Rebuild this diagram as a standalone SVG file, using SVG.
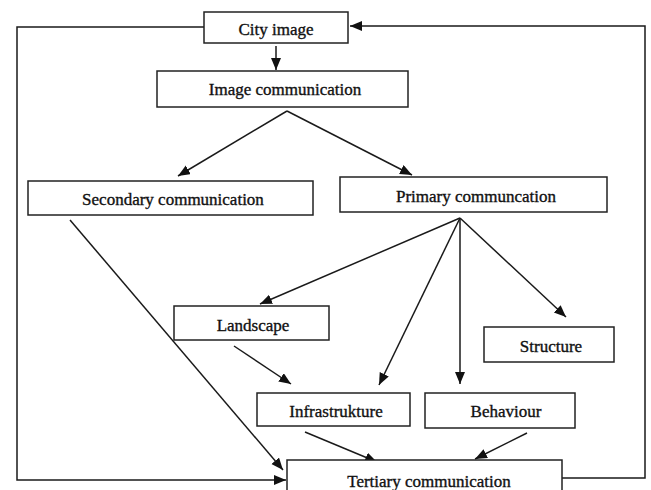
<svg xmlns="http://www.w3.org/2000/svg" width="651" height="490" viewBox="0 0 651 490">
<style>
.box{fill:#fff;stroke:#222;stroke-width:1.5}
.lbl{font-family:"Liberation Serif","Times New Roman",serif;font-size:17px;fill:#111;stroke:#111;stroke-width:0.35;text-anchor:middle}
.ln{fill:none;stroke:#1a1a1a;stroke-width:1.5}
.arr{marker-end:url(#ah)}
</style>
<defs>
<marker id="ah" markerUnits="userSpaceOnUse" markerWidth="14" markerHeight="12" refX="12" refY="5" orient="auto">
<path d="M0,0 L12,5 L0,10 z" fill="#111"/>
</marker>
</defs>
<rect width="651" height="490" fill="#fff"/>
<g id="connectors">
<polyline class="ln" points="204,27 17,27 17,480 286,480" style="marker-end:url(#ah)"/>
<polyline class="ln" points="562,478 645,478 645,26 350,26" style="marker-end:url(#ah)"/>
<line class="ln arr" x1="276" y1="46" x2="276" y2="70"/>
<line class="ln arr" x1="287" y1="111" x2="178" y2="176"/>
<line class="ln arr" x1="287" y1="111" x2="412" y2="175"/>
<line class="ln arr" x1="70" y1="220" x2="283" y2="470"/>
<line class="ln arr" x1="460" y1="218" x2="260" y2="304"/>
<line class="ln arr" x1="460" y1="218" x2="379" y2="385"/>
<line class="ln arr" x1="460" y1="218" x2="460" y2="384"/>
<line class="ln arr" x1="460" y1="218" x2="566" y2="317"/>
<line class="ln arr" x1="234" y1="346" x2="291" y2="384"/>
<line class="ln arr" x1="305" y1="432" x2="377" y2="462"/>
<line class="ln arr" x1="527" y1="433" x2="475" y2="459"/>
</g>
<g id="city-image"><rect class="box" x="204" y="12" width="144" height="31"/><text class="lbl" x="276" y="35">City image</text></g>
<g id="image-communication"><rect class="box" x="157" y="71" width="251" height="36"/><text class="lbl" x="285" y="95">Image communication</text></g>
<g id="secondary-communication"><rect class="box" x="28" y="181" width="285" height="34"/><text class="lbl" x="173" y="205">Secondary communication</text></g>
<g id="primary-communication"><rect class="box" x="340" y="177" width="267" height="35"/><text class="lbl" x="476" y="202">Primary communcation</text></g>
<g id="landscape"><rect class="box" x="174" y="306" width="155" height="34"/><text class="lbl" x="253" y="331">Landscape</text></g>
<g id="structure"><rect class="box" x="484" y="327" width="130" height="35"/><text class="lbl" x="551" y="352">Structure</text></g>
<g id="infrastructure"><rect class="box" x="257" y="393" width="153" height="33"/><text class="lbl" x="336" y="417">Infrastrukture</text></g>
<g id="behaviour"><rect class="box" x="425" y="393" width="150" height="35"/><text class="lbl" x="506" y="417">Behaviour</text></g>
<g id="tertiary-communication"><rect class="box" x="287" y="460" width="275" height="40"/><text class="lbl" x="429" y="487">Tertiary communication</text></g>
</svg>
